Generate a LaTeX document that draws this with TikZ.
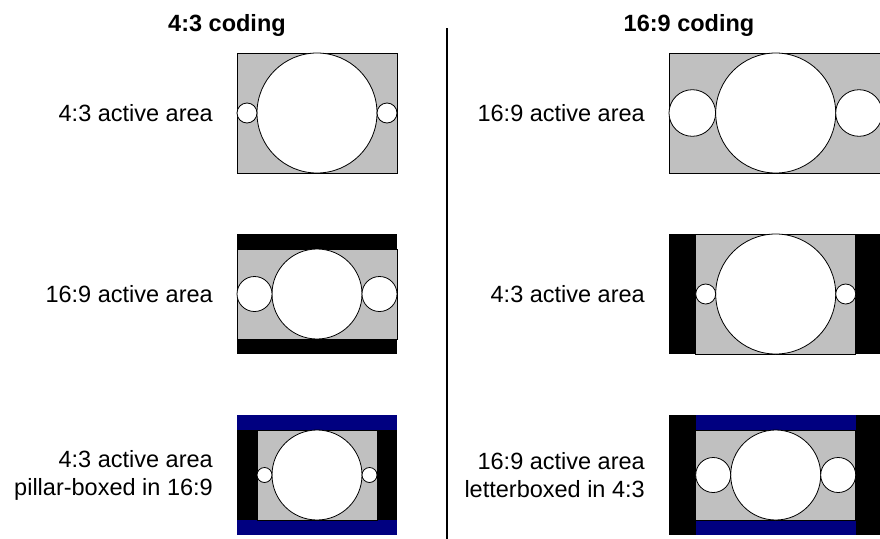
\documentclass[tikz,border=0pt]{standalone}
\usepackage{fontspec}
\setmainfont{Liberation Sans}
\definecolor{scrgray}{HTML}{C0C0C0}
\definecolor{barblue}{HTML}{000080}
\begin{document}
\begin{tikzpicture}[x=1pt,y=-1pt,
  lbl/.style={align=right,anchor=east,inner sep=0pt,font=\fontsize{23.5}{28}\selectfont},
  ttl/.style={anchor=center,inner sep=0pt,font=\fontsize{23.5}{28}\selectfont\bfseries},
  area/.style={fill=scrgray,draw=black,line width=0.8pt},
  bar/.style={fill=black,draw=none},
  bluebar/.style={fill=barblue,draw=none},
  disc/.style={fill=white,draw=black,line width=0.8pt}]
\useasboundingbox (0,0) rectangle (880,538);
\clip (0,0) rectangle (880,538);
% titles and divider
\node[ttl] (t1) at (227,25) {4:3 coding};
\node[ttl] (t2) at (689,25) {16:9 coding};
\coordinate (dtop) at (447,28);
\coordinate (dbot) at (447,540);
\draw[line width=1.6pt] (dtop) -- (dbot);
% labels
\node[lbl] (l1) at (213,113) {4:3 active area};
\node[lbl] (l2) at (213,294) {16:9 active area};
\node[lbl] (l3) at (213,475) {4:3 active area\\pillar-boxed in 16:9};
\node[lbl] (r1) at (645,113) {16:9 active area};
\node[lbl] (r2) at (645,294) {4:3 active area};
\node[lbl] (r3) at (645,475) {16:9 active area\\letterboxed in 4:3};
% box 1: 4:3 active area in 4:3 coding
\draw[area] (237,53) rectangle (397,173);
\draw[disc] (317,113) circle (60);
\draw[disc] (247,113) circle (10);
\draw[disc] (387,113) circle (10);
% box 2: 16:9 in 4:3 coding
\fill[bar] (237,234) rectangle (397,354);
\draw[area] (237,249) rectangle (397,339);
\draw[disc] (317,294) circle (45);
\draw[disc] (254.5,294) circle (17.5);
\draw[disc] (379.5,294) circle (17.5);
% box 3: 4:3 pillar-boxed in 16:9, in 4:3 coding
\fill[bar] (237,415) rectangle (397,535);
\fill[bluebar] (237,415) rectangle (397,430);
\fill[bluebar] (237,520) rectangle (397,535);
\draw[area] (257,430) rectangle (377,520);
\draw[disc] (317,475) circle (45);
\draw[disc] (264.5,475) circle (7.5);
\draw[disc] (369.5,475) circle (7.5);
% box 4: 16:9 active area in 16:9 coding
\draw[area] (669,53) rectangle (882.3,173);
\draw[disc] (775.7,113) circle (60);
\draw[disc] (692.3,113) circle (23.3);
\draw[disc] (859,113) circle (23.3);
% box 5: 4:3 in 16:9 coding
\fill[bar] (669,234) rectangle (882.3,354);
\draw[area] (695.7,234) rectangle (855.7,354);
\draw[disc] (775.7,294) circle (60);
\draw[disc] (705.7,294) circle (10);
\draw[disc] (845.7,294) circle (10);
% box 6: 16:9 letterboxed in 4:3, in 16:9 coding
\fill[bar] (669,415) rectangle (882.3,535);
\fill[bluebar] (695.7,415) rectangle (855.7,535);
\draw[area] (695.7,430) rectangle (855.7,520);
\draw[disc] (775.7,475) circle (45);
\draw[disc] (713.2,475) circle (17.5);
\draw[disc] (838.2,475) circle (17.5);
\end{tikzpicture}
\end{document}
